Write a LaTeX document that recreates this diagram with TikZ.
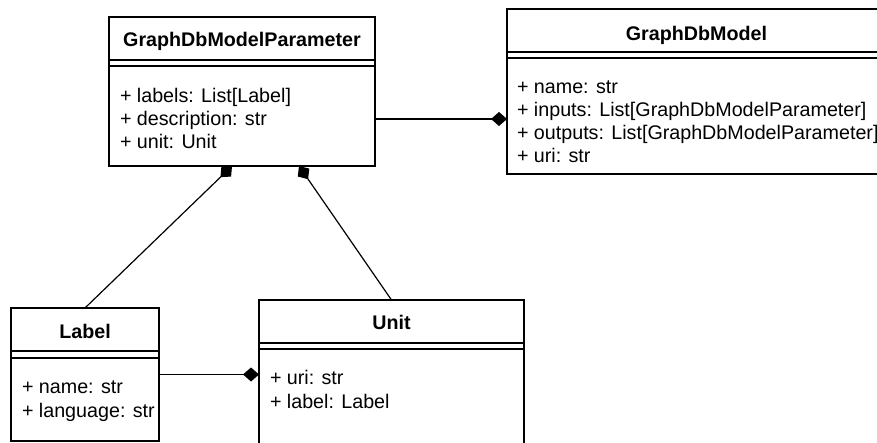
\documentclass[tikz,border=0pt]{standalone}
\usepackage{fontspec}
\setmainfont{Liberation Sans}
\usetikzlibrary{arrows.meta,positioning}

\begin{document}
\begin{tikzpicture}[x=1pt,y=-1pt,line width=1.2pt,
    every node/.append style={inner sep=0pt,outer sep=0pt,font=\fontsize{19.7}{22.7}\selectfont},
    classbox/.style={draw,rectangle,anchor=north west},
    classname/.style={anchor=base,font=\fontsize{19.7}{22.7}\selectfont\bfseries},
    attr/.style={anchor=base west},
    comp/.style={-{Diamond[length=16pt,width=14pt]}}]
                \clip (0,0) rectangle (877,443);
                % GraphDbModelParameter
                \node [classbox,minimum width=266pt,minimum height=149pt] (param) at (109,17) {};
                \draw ([yshift=-43pt]param.north west) -- ([yshift=-43pt]param.north east);
                \draw ([yshift=-49pt]param.north west) -- ([yshift=-49pt]param.north east);
                \node [classname] (paramname) at ([yshift=-30pt]param.north) {GraphDbModelParameter};
                \node [attr] (paramlabels) at ([xshift=11pt,yshift=-86pt]param.north west) {+ labels: List[Label]};
                \node [attr] (paramdesc) at ([xshift=11pt,yshift=-109pt]param.north west) {+ description: str};
                \node [attr] (paramunit) at ([xshift=11pt,yshift=-132pt]param.north west) {+ unit: Unit};
                % GraphDbModel
                \node [classbox,minimum width=379pt,minimum height=165pt] (model) at (507,9) {};
                \draw ([yshift=-43pt]model.north west) -- ([yshift=-43pt]model.north east);
                \draw ([yshift=-49pt]model.north west) -- ([yshift=-49pt]model.north east);
                \node [classname] (modeltitle) at ([yshift=-32pt]model.north) {GraphDbModel};
                \node [attr] (modelname) at ([xshift=10pt,yshift=-85pt]model.north west) {+ name: str};
                \node [attr] (modelinputs) at ([xshift=10pt,yshift=-108pt]model.north west) {+ inputs: List[GraphDbModelParameter]};
                \node [attr] (modeloutputs) at ([xshift=10pt,yshift=-131pt]model.north west) {+ outputs: List[GraphDbModelParameter]};
                \node [attr] (modeluri) at ([xshift=10pt,yshift=-154pt]model.north west) {+ uri: str};
                % Label
                \node [classbox,minimum width=148pt,minimum height=133pt] (label) at (11,308) {};
                \draw ([yshift=-43pt]label.north west) -- ([yshift=-43pt]label.north east);
                \draw ([yshift=-50pt]label.north west) -- ([yshift=-50pt]label.north east);
                \node [classname] (labeltitle) at ([yshift=-30pt]label.north) {Label};
                \node [attr] (labelname) at ([xshift=11pt,yshift=-85pt]label.north west) {+ name: str};
                \node [attr] (labellang) at ([xshift=11pt,yshift=-109pt]label.north west) {+ language: str};
                % Unit
                \node [classbox,minimum width=265pt,minimum height=160pt] (unit) at (259,300) {};
                \draw ([yshift=-43pt]unit.north west) -- ([yshift=-43pt]unit.north east);
                \draw ([yshift=-49pt]unit.north west) -- ([yshift=-49pt]unit.north east);
                \node [classname] (unittitle) at ([yshift=-29pt]unit.north) {Unit};
                \node [attr] (unituri) at ([xshift=11pt,yshift=-84pt]unit.north west) {+ uri: str};
                \node [attr] (unitlabel) at ([xshift=11pt,yshift=-108pt]unit.north west) {+ label: Label};
                % compositions
                \draw [comp] ([yshift=-27.5pt]param.east) -- ([yshift=-27.5pt]param.east -| model.west);
                \draw [comp] (label.east) -- (label.east -| unit.west);
                \draw [comp] (label.north) -- ([xshift=-10pt]param.south);
                \draw [comp] (unit.north) -- ([xshift=57pt]param.south);
\end{tikzpicture}
\end{document}
